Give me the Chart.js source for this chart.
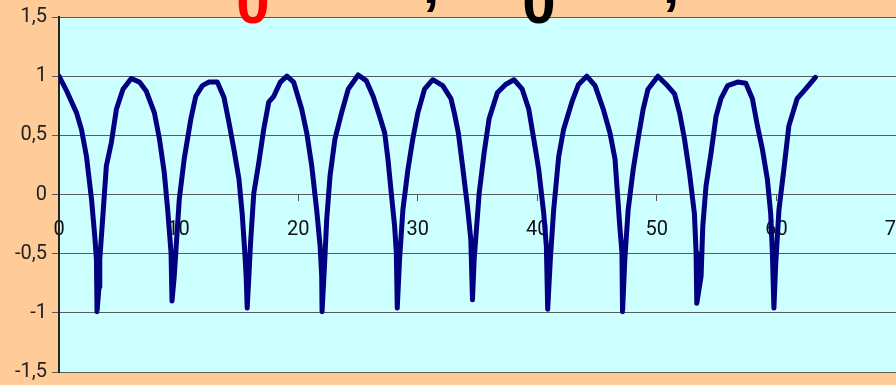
<!DOCTYPE html>
<html>
<head>
<meta charset="utf-8">
<script src="https://cdn.jsdelivr.net/npm/chart.js@4"></script>
<style>
    html, body { margin: 0; padding: 0; background: #ffcc99; overflow: hidden; }
    #wrap { position: relative; width: 896px; height: 385px; }
</style>
</head>
<body>
<div id="wrap"><canvas id="curveChart"></canvas></div>
<script>
// values
const xValues = [
    0, 0.64, 1.47, 1.88, 2.3, 2.72, 2.99, 3.13, 3.18, 3.35, 3.41, 3.69, 3.96, 4.38, 4.8, 5.35, 6.04, 6.73, 7.29, 7.98, 8.4, 8.81, 9.09, 9.37, 9.45,
    9.64, 9.78, 10.06, 10.47, 11.03, 11.44, 11.99, 12.55, 13.24, 13.8, 14.21, 14.63, 15.05, 15.32, 15.54, 15.65, 15.74,
    15.88, 16.02, 16.29, 16.71, 17.12, 17.54, 17.96, 18.51, 19.06, 19.62, 20.3, 20.72, 21.14, 21.55, 21.84, 21.97, 22.0,
    22.2, 22.39, 22.67, 23.08, 23.63, 24.19, 25.02, 25.71, 26.27, 26.82, 27.24, 27.51, 27.79, 28.07, 28.21, 28.29,
    28.48, 28.76, 29.18, 29.59, 30.01, 30.57, 31.26, 32.09, 32.78, 33.06, 33.4, 33.75, 34.16, 34.44, 34.58,
    34.72, 35.14, 35.55, 35.97, 36.66, 37.35, 38.05, 38.74, 39.29, 39.85, 40.12, 40.54, 40.76, 40.87,
    41.09, 41.37, 41.79, 42.2, 42.89, 43.45, 44.14, 44.83, 45.52, 46.08, 46.5, 46.9, 47.08, 47.13,
    47.32, 47.6, 48.02, 48.43, 48.85, 49.26, 50.09, 50.79, 51.48, 51.9, 52.31, 52.73, 53.14, 53.28, 53.34,
    53.7, 53.84, 54.11, 54.53, 54.95, 55.36, 55.92, 56.75, 57.44, 57.99, 58.41, 58.83, 59.24, 59.52, 59.66, 59.79,
    59.93, 60.21, 60.62, 61.04, 61.73, 62.43, 63.26
];
const yValues = [
    1.0, 0.875, 0.69, 0.55, 0.32, -0.04, -0.35, -0.55, -0.99, -0.78, -0.55, -0.15, 0.24, 0.44, 0.72, 0.89, 0.98, 0.95, 0.875, 0.69, 0.47, 0.18, -0.13, -0.49, -0.9,
    -0.69, -0.47, -0.04, 0.3, 0.64, 0.83, 0.92, 0.95, 0.95, 0.82, 0.61, 0.38, 0.13, -0.16, -0.49, -0.69, -0.96,
    -0.69, -0.41, 0.01, 0.27, 0.55, 0.78, 0.83, 0.95, 1.0, 0.95, 0.72, 0.52, 0.24, -0.13, -0.44, -0.69, -0.99,
    -0.61, -0.21, 0.16, 0.47, 0.69, 0.89, 1.01, 0.96, 0.83, 0.66, 0.52, 0.3, 0.01, -0.27, -0.49, -0.96,
    -0.55, -0.13, 0.21, 0.47, 0.69, 0.89, 0.97, 0.92, 0.81, 0.69, 0.52, 0.24, -0.1, -0.38, -0.89,
    -0.55, 0.01, 0.35, 0.64, 0.86, 0.93, 0.97, 0.89, 0.72, 0.38, 0.21, -0.16, -0.44, -0.97,
    -0.55, -0.13, 0.32, 0.55, 0.78, 0.93, 1.0, 0.92, 0.72, 0.52, 0.3, -0.27, -0.49, -0.99,
    -0.55, -0.13, 0.21, 0.47, 0.72, 0.89, 1.0, 0.93, 0.85, 0.69, 0.47, 0.18, -0.16, -0.49, -0.92,
    -0.69, -0.27, 0.07, 0.35, 0.66, 0.81, 0.92, 0.95, 0.94, 0.81, 0.58, 0.38, 0.13, -0.16, -0.49, -0.96,
    -0.61, -0.13, 0.21, 0.58, 0.81, 0.89, 0.99
];
const xTicks = [0, 10, 20, 30, 40, 50, 60, 70];
const yTicks = [-1.5, -1, -0.5, 0, 0.5, 1, 1.5];

// the title is cut off at the top of the picture, only the bottom of it shows
const titleParts = [
    { text: '0', color: '#ff0000', x: 253, y: 23 },
    { text: ',', color: '#000000', x: 431, y: 3 },
    { text: '0', color: '#000000', x: 539, y: 23 },
    { text: ',', color: '#000000', x: 671, y: 3 }
];

const points = xValues.map((x, i) => ({ x: x, y: yValues[i] }));

const plotBackground = {
    id: 'plotBackground',
    beforeDraw(chart) {
        const { ctx, chartArea } = chart;
        ctx.save();
        ctx.fillStyle = '#ccffff';
        ctx.fillRect(chartArea.left, chartArea.top, chartArea.right - chartArea.left, chartArea.bottom - chartArea.top);
        ctx.restore();
    }
};

const cutTitle = {
    id: 'cutTitle',
    afterDraw(chart) {
        const ctx = chart.ctx;
        ctx.save();
        ctx.font = 'bold 60px "Liberation Sans"';
        ctx.textAlign = 'center';
        ctx.textBaseline = 'alphabetic';
        titleParts.forEach(p => {
            ctx.fillStyle = p.color;
            ctx.fillText(p.text, p.x, p.y);
        });
        ctx.restore();
    }
};

// keep the label overhang from shrinking the plot
const noOverhang = scale => {
    scale.paddingLeft = 0;
    scale.paddingRight = 0;
    scale.paddingTop = 0;
    scale.paddingBottom = 0;
};

const ctx = document.getElementById('curveChart').getContext('2d');
new Chart(ctx, {
    type: 'line',
    data: {
        datasets: [{
            data: points,
            borderColor: '#000080',
            borderWidth: 5,
            pointRadius: 0,
            tension: 0,
            borderJoinStyle: 'round',
            borderCapStyle: 'round',
        }]
    },
    options: {
        responsive: true,
        maintainAspectRatio: false,
        animation: false,
        layout: {
            padding: { top: 17, bottom: 13, left: 0, right: -5 }
        },
        scales: {
            x: {
                type: 'linear',
                position: { y: 0 },
                min: 0,
                max: 70,
                afterBuildTicks: scale => { scale.ticks = xTicks.map(v => ({ value: v })); },
                afterFit: noOverhang,
                ticks: {
                    color: '#111',
                    font: { family: 'Roboto', size: 20 },
                    padding: 17,
                    maxRotation: 0,
                },
                grid: {
                    drawOnChartArea: false,
                    drawTicks: true,
                    tickLength: 6,
                    color: '#555',
                },
                border: { display: false },
            },
            y: {
                min: -1.5,
                max: 1.5,
                afterBuildTicks: scale => { scale.ticks = yTicks.map(v => ({ value: v })); },
                afterFit: scale => { scale.width = 59; noOverhang(scale); },
                ticks: {
                    color: '#222',
                    font: { family: 'Roboto', size: 20 },
                    padding: 5,
                    callback: v => String(v).replace('.', ','),
                },
                grid: {
                    color: '#5a5a5a',
                    lineWidth: 1,
                    tickLength: 7,
                },
                border: { color: '#222', width: 2 },
            }
        },
        plugins: {
            legend: { display: false },
            tooltip: { enabled: false }
        }
    },
    plugins: [plotBackground, cutTitle]
});
</script>
</body>
</html>
